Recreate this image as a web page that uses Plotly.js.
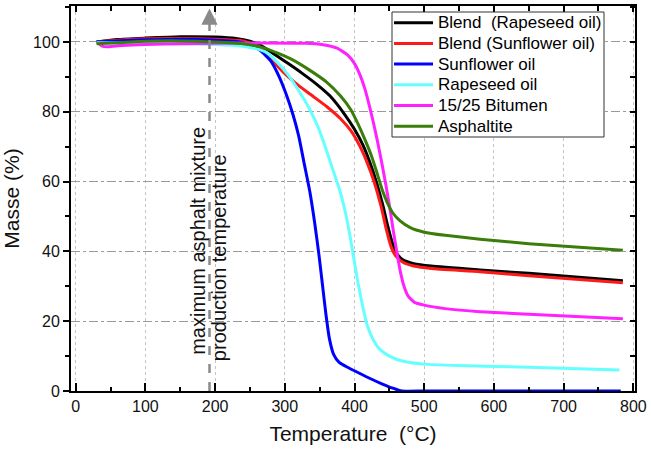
<!DOCTYPE html>
<html>
<head>
<meta charset="utf-8">
<script src="https://cdn.plot.ly/plotly-3.0.1.min.js"></script>
<style>html,body{margin:0;padding:0;background:#fff;}#chart{width:651px;height:453px;}</style>
</head>
<body>
<div id="chart"></div>
<script>
// Series names
const seriesNames = ["Blend  (Rapeseed oil)", "Blend (Sunflower oil)", "Sunflower oil", "Rapeseed oil", "15/25 Bitumen", "Asphaltite"];

// Temperature (°C) / mass (%) per series
const blendRapeseedT = [30,60,100,150,200,230,250,265,285,305,325,345,365,385,400,412,422,432,441,448,455,462,470,485,510,580,650,785];
const blendRapeseedM = [100,100.7,101.1,101.5,101.4,101,100.2,99,96.5,93.8,91,88,84.5,79.5,75,70.5,65.5,59.5,53,47,42,39,37.5,36.5,35.8,34.7,33.7,31.6];

const blendSunflowerT = [30,60,100,150,200,240,260,275,290,305,320,340,360,380,395,408,418,428,438,446,453,460,470,485,510,580,650,785];
const blendSunflowerM = [100,100.5,100.9,101,100.8,100.3,98.8,96.5,93,90,87.5,84.5,81.5,78,74.5,70,65.5,60,53,46,41,38.5,36.8,35.8,35.1,34.2,33,31];

const sunflowerT = [30,60,100,150,200,235,250,265,280,292,302,312,320,328,336,343,349,354,359,364,370,378,390,405,420,440,455,468,500,600,700,782];
const sunflowerM = [100,100.3,100.6,100.8,100.5,100,99.2,97.5,94.5,90,85,79,73,65,57,48,39,30.5,22,15,10.5,8.2,6.8,5.3,3.8,2,0.8,0,0,0,0,0];

const rapeseedT = [30,60,100,150,200,240,260,275,290,305,320,335,348,358,368,378,386,393,399,405,411,418,426,436,450,470,500,550,650,780];
const rapeseedM = [99.8,99.7,99.6,99.5,99.3,98.8,98,96.8,94,90.5,86,81,75.5,70,64,58,52,45,38,31,25,19,15,12,10,8.5,7.7,7.3,6.8,6];

const bitumenT = [33,38,45,60,100,150,250,330,355,375,390,400,408,415,421,427,433,439,445,451,456,461,466,471,477,486,500,530,580,650,785];
const bitumenM = [99.6,98.8,98.6,98.9,99.3,99.5,99.7,99.6,99.2,98.2,96.3,93.8,90.5,86.5,82,77,71.5,65.5,59,52,45.5,39.5,34,30,27.2,25.4,24.6,23.6,22.7,22,20.7];

const asphaltiteT = [30,60,100,150,200,240,265,290,310,335,360,380,395,405,415,425,433,440,447,455,465,480,500,530,580,650,785];
const asphaltiteM = [99.5,99.8,100.2,100.3,100,99.5,98.6,96.8,95,92,88.5,84.5,80.5,76.5,72,67,62,57.5,54,51,48.8,46.8,45.5,44.6,43.5,42.2,40.3];

const seriesT = [blendRapeseedT, blendSunflowerT, sunflowerT, rapeseedT, bitumenT, asphaltiteT];
const seriesM = [blendRapeseedM, blendSunflowerM, sunflowerM, rapeseedM, bitumenM, asphaltiteM];
const seriesColors = ["#000000", "#ff1a1a", "#0000ff", "#66ffff", "#ff22ff", "#3a7d0a"];

// Production temperature marker
const productionTemp = [192];
const productionLabel = ["maximum asphalt mixture", "production temperature"];

const xTickVals = [0,100,200,300,400,500,600,700,800];
const yTickVals = [0,20,40,60,80,100];

const traces = seriesNames.map((name, i) => ({
  x: seriesT[i], y: seriesM[i], name: name, type: "scatter", mode: "lines", showlegend: false,
  line: {color: seriesColors[i], width: 3, shape: "spline", smoothing: 0.5},
  xaxis: "x", yaxis: "y"
}));
// helper trace for mirrored axes
traces.push({x: [0], y: [0], xaxis: "x2", yaxis: "y2", showlegend: false, mode: "markers", marker: {opacity: 0}, hoverinfo: "skip"});

// plot-area geometry in pixels (for the boxed legend placement)
const M = {l: 71, r: 16, t: 6, b: 62};
const W = 651, H = 453;
const pw = W - M.l - M.r, ph = H - M.t - M.b;
const px2x = p => (p - M.l) / pw;
const py2y = p => (H - M.b - p) / ph;

const shapes = [
  {type: "line", xref: "x", yref: "y", x0: productionTemp[0], x1: productionTemp[0], y0: 0, y1: 107,
   line: {color: "#8a8a8a", width: 2.5, dash: "dash"}, layer: "above"},
  {type: "rect", xref: "paper", yref: "paper", x0: px2x(392), x1: px2x(604), y0: py2y(137), y1: py2y(12),
   line: {color: "#333", width: 1}, fillcolor: "#fff", layer: "above"}
];
const annotations = [
  {xref: "x", yref: "y", x: productionTemp[0], y: 109.6, axref: "x", ayref: "y", ax: productionTemp[0], ay: 105.5,
   showarrow: true, arrowhead: 2, arrowsize: 1.3, arrowwidth: 2.5, arrowcolor: "#8a8a8a", text: ""},
  {xref: "x", yref: "y", x: productionTemp[0] - 17, y: 9.7, text: productionLabel[0], textangle: -90, showarrow: false,
   xanchor: "center", yanchor: "bottom", font: {size: 20, color: "#111"}},
  {xref: "x", yref: "y", x: productionTemp[0] + 13, y: 8.0, text: productionLabel[1], textangle: -90, showarrow: false,
   xanchor: "center", yanchor: "bottom", font: {size: 20, color: "#111"}}
];
seriesNames.forEach((name, i) => {
  const cy = 22.7 + 20.7 * i;
  shapes.push({type: "line", xref: "paper", yref: "paper", x0: px2x(394), x1: px2x(433), y0: py2y(cy), y1: py2y(cy),
               line: {color: seriesColors[i], width: 3}, layer: "above"});
  annotations.push({xref: "paper", yref: "paper", x: px2x(436), y: py2y(cy), xanchor: "left", yanchor: "middle",
                    text: name, showarrow: false, font: {size: 17, color: "#000"}});
});

const layout = {
  width: W, height: H,
  margin: M,
  paper_bgcolor: "#fff", plot_bgcolor: "#fff",
  font: {family: "Liberation Sans, Arial, sans-serif", size: 16, color: "#111"},
  showlegend: false,
  xaxis: {range: [-6.7, 802.4], tickvals: xTickVals, ticks: "inside", ticklen: 8, tickwidth: 2, tickcolor: "#000",
          minor: {dtick: 50, tick0: 0, ticks: "inside", ticklen: 4, tickwidth: 2, tickcolor: "#000", showgrid: false},
          showline: true, linewidth: 2, linecolor: "#000", showgrid: true, gridcolor: "#c4c4c8", griddash: "dot", gridwidth: 1,
          zeroline: false, tickfont: {size: 16, color: "#111"},
          title: {text: "Temperature  (°C)", font: {size: 21, color: "#111"}, standoff: 12}},
  xaxis2: {range: [-6.7, 802.4], overlaying: "x", side: "top", tickvals: xTickVals, ticks: "inside", ticklen: 6, tickwidth: 2, tickcolor: "#000",
           minor: {dtick: 50, tick0: 0, ticks: "inside", ticklen: 5, tickwidth: 2, tickcolor: "#000"},
           showline: true, linewidth: 2, linecolor: "#000", showgrid: false, zeroline: false, showticklabels: false},
  yaxis: {range: [0, 110.3], tickvals: yTickVals, ticks: "outside", ticklen: 6, tickwidth: 2, tickcolor: "#000",
          minor: {dtick: 10, tick0: 0, ticks: "outside", ticklen: 4, tickwidth: 2, tickcolor: "#000", showgrid: false},
          showline: true, linewidth: 2, linecolor: "#000", showgrid: true, gridcolor: "#9a9a9a", griddash: "dashdot", gridwidth: 1,
          zeroline: false, tickfont: {size: 16, color: "#111"},
          title: {text: "Masse (%)", font: {size: 21, color: "#111"}, standoff: 10}},
  yaxis2: {range: [0, 110.3], overlaying: "y", side: "right", anchor: "x2", tickvals: yTickVals, ticks: "inside", ticklen: 5, tickwidth: 2, tickcolor: "#000",
           minor: {dtick: 10, tick0: 0, ticks: "inside", ticklen: 5, tickwidth: 2, tickcolor: "#000"},
           showline: true, linewidth: 2, linecolor: "#000", showgrid: false, zeroline: false, showticklabels: false},
  shapes: shapes,
  annotations: annotations
};

Plotly.newPlot("chart", traces, layout, {displayModeBar: false, staticPlot: true});
</script>
</body>
</html>
